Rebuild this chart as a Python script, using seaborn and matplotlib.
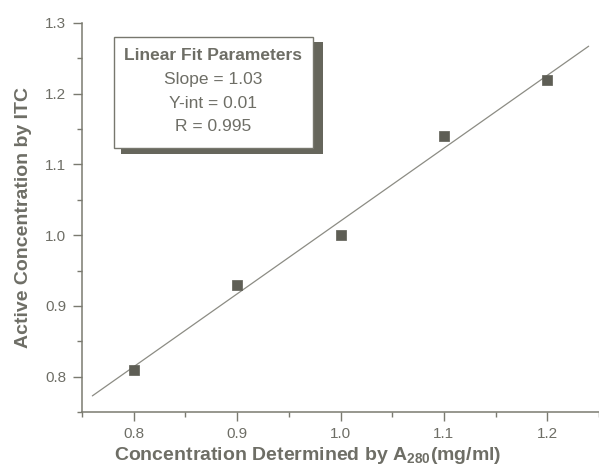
import numpy as np
import pandas as pd
import matplotlib
matplotlib.use("Agg")
import matplotlib.pyplot as plt
from matplotlib.patches import Rectangle
from matplotlib.ticker import MultipleLocator
import seaborn as sns

# data
conc_a280 = [0.8, 0.9, 1.0, 1.1, 1.2]
conc_itc = [0.81, 0.93, 1.00, 1.14, 1.22]
fit_span = [0.76, 1.24]
fit_lines = ["Linear Fit Parameters", "Slope = 1.03", "Y-int = 0.01", "R = 0.995"]

df = pd.DataFrame({"x": conc_a280, "y": conc_itc})

# linear fit through the points
slope, icept = np.polyfit(df["x"], df["y"], 1)
fit_df = pd.DataFrame({"x": fit_span})
fit_df["y"] = slope * fit_df["x"] + icept

sns.set_style("ticks")
plt.rcParams["font.family"] = ["Liberation Sans", "DejaVu Sans"]
plt.rcParams["mathtext.fontset"] = "custom"
plt.rcParams["mathtext.bf"] = "Liberation Sans:bold"
plt.rcParams["mathtext.rm"] = "Liberation Sans"

text_col = "#6e6e66"
axis_col = "#7a7a70"

fig = plt.figure(figsize=(5.99, 4.68), dpi=100)
ax = fig.add_axes([82 / 599, 1 - 412 / 468, 517 / 599, 389 / 468])

sns.lineplot(data=fit_df, x="x", y="y", ax=ax, color="#8c8c84", linewidth=0.9)
sns.scatterplot(data=df, x="x", y="y", ax=ax, marker="s", s=42,
                color="#5e5e55", edgecolor="#5e5e55", linewidth=0.5, zorder=3)

ax.set_xlim(0.75, 1.25)
ax.set_ylim(0.75, 1.3)
ax.xaxis.set_minor_locator(MultipleLocator(0.05))
ax.yaxis.set_minor_locator(MultipleLocator(0.05))
ax.set_xticks([0.8, 0.9, 1.0, 1.1, 1.2])
ax.set_yticks([0.8, 0.9, 1.0, 1.1, 1.2, 1.3])
ax.xaxis.set_major_formatter(plt.FormatStrFormatter("%.1f"))
ax.yaxis.set_major_formatter(plt.FormatStrFormatter("%.1f"))

sns.despine(ax=ax)
for side in ["left", "bottom"]:
    ax.spines[side].set_color(axis_col)
    ax.spines[side].set_linewidth(1.1)
ax.tick_params(which="major", direction="out", length=6.5, width=1.0,
               color=axis_col, labelcolor=text_col, labelsize=11)
ax.tick_params(axis="x", which="major", pad=4)
ax.tick_params(axis="y", which="major", pad=5)
ax.tick_params(which="minor", direction="out", length=3.5, width=1.0,
               color=axis_col)

ax.set_xlabel("Concentration Determined by A$_{\\mathbf{280}}$(mg/ml)",
              fontsize=14, fontweight="bold", color=text_col)
ax.set_ylabel("Active Concentration by ITC", fontsize=14,
              fontweight="bold", color=text_col, labelpad=9)
ax.xaxis.set_label_coords((308 - 82) / 517, -(445 - 412) / 389)

# boxed fit summary with drop shadow
shadow = Rectangle((121 / 599, 1 - 154 / 468), 202 / 599, 112 / 468,
                   transform=fig.transFigure, facecolor="#66665c",
                   edgecolor="none", zorder=4)
box = Rectangle((114 / 599, 1 - 148 / 468), 199 / 599, 111 / 468,
                transform=fig.transFigure, facecolor="white",
                edgecolor="#77776e", linewidth=1.0, zorder=5)
fig.add_artist(shadow)
fig.add_artist(box)

line_y = [56, 79, 103, 127]
for i, (txt, yy) in enumerate(zip(fit_lines, line_y)):
    fig.text(213 / 599, 1 - yy / 468, txt, ha="center", va="center",
             fontsize=12.5, color=text_col,
             fontweight="bold" if i == 0 else "normal", zorder=6)

fig.savefig("out.png", dpi=100)
